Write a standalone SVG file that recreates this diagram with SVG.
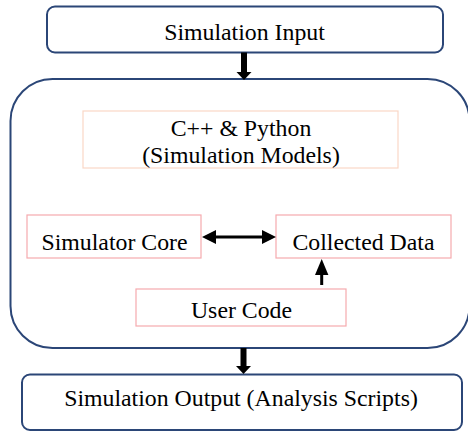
<svg xmlns="http://www.w3.org/2000/svg" width="468" height="432" viewBox="0 0 468 432">
<style>
  .t { font-family: "Liberation Serif", "Times New Roman", serif; font-size: 23.8px; fill: #000; text-anchor: middle; }
  .outer { fill: #fff; stroke: #2b4677; stroke-width: 2; }
  .inner { fill: #fff; stroke: #f6aaae; stroke-width: 1.2; }
  .innerp { fill: #fff; stroke: #fad7c6; stroke-width: 1.2; }
  .thick { stroke: #000; stroke-width: 6; fill: none; }
  .thin { stroke: #000; stroke-width: 3; fill: none; }
  .head { fill: #000; }
</style>
<rect width="468" height="432" fill="#fff"/>
<g id="simulation-input">
  <rect class="outer" x="47" y="6.5" width="396" height="46" rx="8"/>
  <text class="t" x="244.5" y="40">Simulation Input</text>
</g>
<g id="container">
  <rect class="outer" x="10.5" y="79" width="459" height="269" rx="42"/>
</g>
<g id="cpp-python">
  <rect class="innerp" x="83" y="111" width="315" height="57"/>
  <text class="t" x="241" y="136">C++ &amp; Python</text>
  <text class="t" x="241" y="163">(Simulation Models)</text>
</g>
<g id="simulator-core">
  <rect class="inner" x="27" y="215" width="174" height="43"/>
  <text class="t" x="114.5" y="250">Simulator Core</text>
</g>
<g id="collected-data">
  <rect class="inner" x="276" y="215" width="175" height="43"/>
  <text class="t" x="363.5" y="250">Collected Data</text>
</g>
<g id="user-code">
  <rect class="inner" x="136" y="289" width="210" height="37"/>
  <text class="t" x="241.5" y="318">User Code</text>
</g>
<g id="simulation-output">
  <rect class="outer" x="22" y="374.5" width="440" height="55.5" rx="8"/>
  <text class="t" x="241" y="406">Simulation Output (Analysis Scripts)</text>
</g>
<g id="connectors">
  <line class="thick" x1="244" y1="52.5" x2="244" y2="73"/>
  <polygon class="head" points="236.5,72 251.5,72 244,80"/>
  <line class="thick" x1="243.5" y1="348" x2="243.5" y2="367"/>
  <polygon class="head" points="236,366 251,366 243.5,374"/>
  <line class="thin" x1="214" y1="237" x2="264" y2="237"/>
  <polygon class="head" points="202,237 216,230 216,244"/>
  <polygon class="head" points="276,237 262,230 262,244"/>
  <line class="thin" x1="321.7" y1="285" x2="321.7" y2="273"/>
  <polygon class="head" points="321.7,259 315,275 328.4,275"/>
</g>
</svg>
